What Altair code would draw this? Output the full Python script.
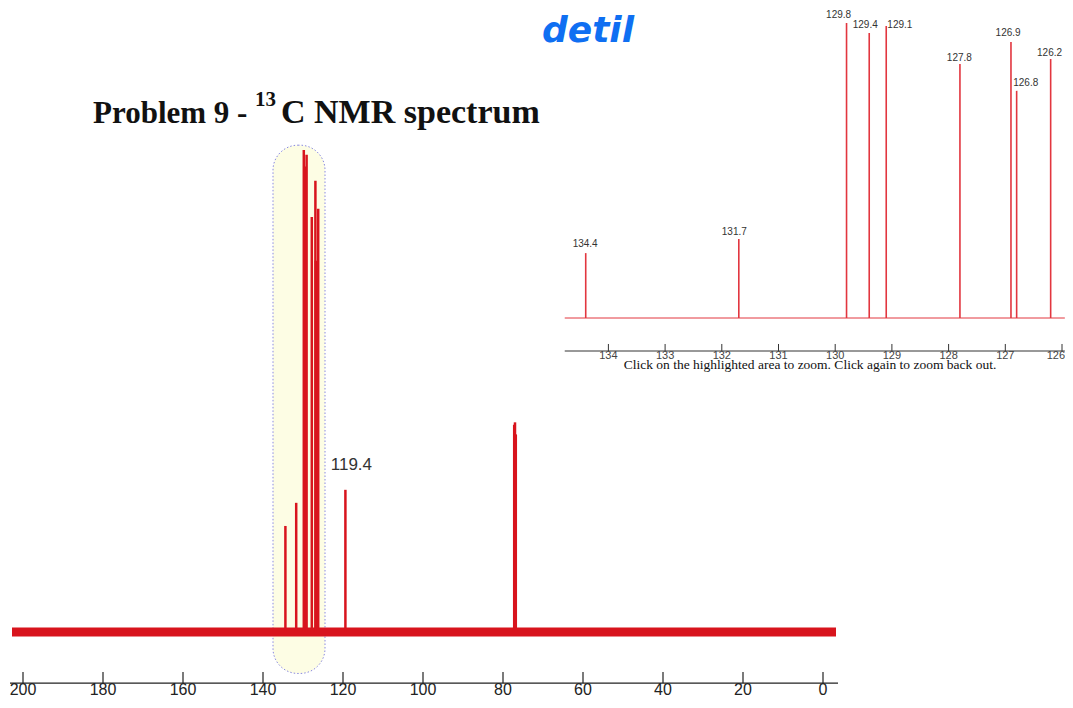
import altair as alt
import pandas as pd

# ---------------- data ----------------
# full 13C spectrum: peak positions (ppm) and relative intensities (tallest = 100)
peak_ppm = [134.4, 131.7, 129.8, 129.4, 129.1, 127.8, 126.9, 126.8, 126.2, 119.4, 77.2, 77.0, 76.8]
peak_int = [22.0, 26.8, 100.0, 96.6, 99.0, 86.1, 93.6, 77.0, 87.8, 29.5, 43.0, 43.5, 41.0]
spec_range = [202.75, -3.25]          # recorded ppm window
noise_level = 0.95                    # baseline noise half-height
main_ticks = [200, 180, 160, 140, 120, 100, 80, 60, 40, 20, 0]
main_label_txt = ["119.4"]
main_label_ppm = [117.9]
main_label_int = [34.6]
highlight_ppm = [137.5, 124.5]
highlight_int = [101.0, -8.6]

# zoomed detail (aromatic region)
inset_ppm = [134.4, 131.7, 129.8, 129.4, 129.1, 127.8, 126.9, 126.8, 126.2]
inset_int = [22.0, 26.8, 100.0, 96.6, 99.0, 86.1, 93.6, 77.0, 87.8]
inset_lbl = ["134.4", "131.7", "129.8", "129.4", "129.1", "127.8", "126.9", "126.8", "126.2"]
inset_lbl_ppm = [134.41, 131.78, 129.94, 129.47, 128.86, 127.81, 126.95, 126.64, 126.22]
inset_lbl_int = [25.1, 29.2, 102.7, 99.3, 99.3, 88.1, 96.6, 79.7, 89.8]
inset_range = [134.77, 125.95]
inset_ticks = [134, 133, 132, 131, 130, 129, 128, 127, 126]

RED = "#d8141d"
IRED = "#e2363f"

# ---------------- scales ----------------
MX = alt.Scale(domain=[0, 200], range=[815, 15], nice=False, zero=False)
MY = alt.Scale(domain=[0, 100], range=[624, 142], nice=False, zero=False)
IX = alt.Scale(domain=[126, 134], range=[1054, 600.4], nice=False, zero=False)
IY = alt.Scale(domain=[0, 100], range=[310, 15], nice=False, zero=False)


def xf(field, sc):
    return alt.X(field, type="quantitative", scale=sc, axis=None)


def yf(field, sc):
    return alt.Y(field, type="quantitative", scale=sc, axis=None)


def yd(v, sc):
    return alt.YDatum(v, scale=sc, axis=None)


peaks_df = pd.DataFrame({"ppm": peak_ppm, "h": peak_int, "base": [0.0] * len(peak_ppm)})
band_df = pd.DataFrame({"a": [spec_range[0]], "b": [spec_range[1]],
                        "lo": [-noise_level], "hi": [noise_level]})
mticks_df = pd.DataFrame({"t": main_ticks, "lbl": [str(t) for t in main_ticks]})
mlabel_df = pd.DataFrame({"ppm": main_label_ppm, "i": main_label_int, "txt": main_label_txt})
hl_df = pd.DataFrame({"a": [highlight_ppm[0]], "b": [highlight_ppm[1]],
                      "top": [highlight_int[0]], "bot": [highlight_int[1]]})
axis_df = pd.DataFrame({"a": [203.25], "b": [-3.75]})

ipeaks_df = pd.DataFrame({"ppm": inset_ppm, "h": inset_int, "base": [0.0] * len(inset_ppm)})
ilbl_df = pd.DataFrame({"ppm": inset_lbl_ppm, "i": inset_lbl_int, "txt": inset_lbl})
ibase_df = pd.DataFrame({"a": [inset_range[0]], "b": [inset_range[1]]})
iticks_df = pd.DataFrame({"t": inset_ticks, "lbl": [str(t) for t in inset_ticks]})
one = pd.DataFrame({"k": [0]})

# ---------------- main spectrum ----------------
highlight = alt.Chart(hl_df).mark_rect(
    cornerRadius=25, fill="#fdfde4", stroke="#8a8ae0", strokeDash=[1.5, 2], strokeWidth=1
).encode(x=xf("a", MX), x2="b", y=yf("top", MY), y2="bot")

band = alt.Chart(band_df).mark_rect(color=RED).encode(
    x=xf("a", MX), x2="b", y=yf("lo", MY), y2="hi")

peaks = alt.Chart(peaks_df).mark_rule(color=RED, strokeWidth=2.5).encode(
    x=xf("ppm", MX), y=yf("h", MY), y2="base")

AX_I = -10.6
maxis = alt.Chart(axis_df).mark_rule(color="#222", strokeWidth=1.2).encode(
    x=xf("a", MX), x2="b", y=yd(AX_I, MY))

mticks = alt.Chart(mticks_df).mark_rule(color="#222", strokeWidth=1.2).encode(
    x=xf("t", MX), y=yd(-8.3, MY), y2=alt.Y2Datum(AX_I))

mticklbl = alt.Chart(mticks_df).mark_text(
    font="Liberation Sans", fontSize=16, color="#222", align="center", baseline="middle"
).encode(x=xf("t", MX), y=yd(-12.1, MY), text="lbl:N")

mlabel = alt.Chart(mlabel_df).mark_text(
    font="Liberation Sans", fontSize=17, color="#333", align="center", baseline="middle"
).encode(x=xf("ppm", MX), y=yf("i", MY), text="txt:N")

# ---------------- title ----------------
def title_text(txt, x, y, size):
    return alt.Chart(one).mark_text(
        text=txt, font="Liberation Serif", fontWeight="bold", fontSize=size,
        color="#111", align="left", baseline="alphabetic"
    ).encode(x=alt.value(x), y=alt.value(y))


t1 = title_text("Problem 9 - ", 85, 115, 31)
t2 = title_text("13", 247, 98, 21)
t3 = title_text("C NMR spectrum", 273, 115, 34)

# inset background (cuts off the title)
cover = alt.Chart(one).mark_rect(color="white").encode(
    x=alt.value(532), x2=alt.value(1057), y=alt.value(0), y2=alt.value(380))

# ---------------- inset detail ----------------
ibase = alt.Chart(ibase_df).mark_rule(color=IRED, strokeWidth=1).encode(
    x=xf("a", IX), x2="b", y=yd(0, IY))

ipeaks = alt.Chart(ipeaks_df).mark_rule(color=IRED, strokeWidth=1.6).encode(
    x=xf("ppm", IX), y=yf("h", IY), y2="base")

ilbl = alt.Chart(ilbl_df).mark_text(
    font="Liberation Sans", fontSize=10, color="#333", align="center", baseline="middle"
).encode(x=xf("ppm", IX), y=yf("i", IY), text="txt:N")

iaxis = alt.Chart(ibase_df).mark_rule(color="#333", strokeWidth=1).encode(
    x=xf("a", IX), x2="b", y=yd(-11.19, IY))

iticks = alt.Chart(iticks_df).mark_rule(color="#333", strokeWidth=1).encode(
    x=xf("t", IX), y=yd(-8.81, IY), y2=alt.Y2Datum(-11.19))

iticklbl = alt.Chart(iticks_df).transform_filter("datum.t > 126").mark_text(
    font="Liberation Sans", fontSize=11, color="#444", align="center", baseline="middle"
).encode(x=xf("t", IX), y=yd(-12.9, IY), text="lbl:N")

iticklbl_end = alt.Chart(iticks_df).transform_filter("datum.t == 126").mark_text(
    font="Liberation Sans", fontSize=11, color="#444", align="right", baseline="middle", dx=3
).encode(x=xf("t", IX), y=yd(-12.9, IY), text="lbl:N")

caption = alt.Chart(one).mark_text(
    text="Click on the highlighted area to zoom. Click again to zoom back out.",
    font="Liberation Serif", fontSize=13.5, color="#111", align="center", baseline="middle"
).encode(x=alt.value(802), y=alt.value(357))

detail = alt.Chart(one).mark_text(
    text="detil", font="DejaVu Sans", fontStyle="italic", fontWeight="bold", fontSize=36,
    color="#0f6ff2", align="center", baseline="alphabetic"
).encode(x=alt.value(580), y=alt.value(34))

chart = alt.layer(
    highlight, band, peaks, maxis, mticks, mticklbl, mlabel,
    t1, t2, t3, cover,
    ibase, ipeaks, ilbl, iaxis, iticks, iticklbl, iticklbl_end, caption, detail
).resolve_scale(x="independent", y="independent").properties(
    width=1057, height=692, padding=0, autosize="none", background="white"
).configure_view(stroke=None)

chart.save("out.html", embed_options={"renderer": "svg", "actions": False})
